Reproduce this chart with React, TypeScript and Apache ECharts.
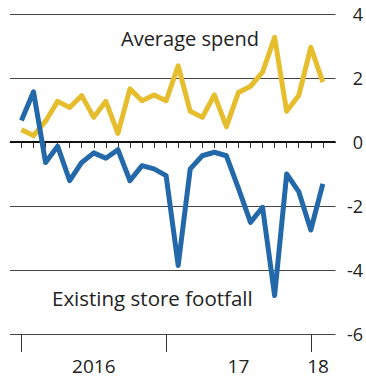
import React, { useEffect, useRef } from "react";
import * as echarts from "echarts";

const months: number[] = Array.from({ length: 26 }, (_, i) => i); // Jan 2016 .. Feb 2018
const averageSpend: number[] = [
  0.38, 0.2, 0.65, 1.27, 1.08, 1.45, 0.77, 1.27, 0.27, 1.66, 1.29, 1.47, 1.29,
  2.38, 0.96, 0.77, 1.47, 0.48, 1.55, 1.74, 2.18, 3.27, 0.96, 1.45, 2.96, 1.87,
];
const footfall: number[] = [
  0.67, 1.57, -0.64, -0.13, -1.21, -0.64, -0.34, -0.51, -0.24, -1.21, -0.74,
  -0.84, -1.05, -3.86, -0.84, -0.43, -0.32, -0.43, -1.45, -2.51, -2.04, -4.8,
  -1.0, -1.55, -2.75, -1.31,
];
const yearTicks: number[] = [0, 12, 24];
const yearLabelPos: number[] = [6, 18, 24.6];
const yearLabels: string[] = ["2016", "17", "18"];

const FONT = "'Open Sans', 'Noto Sans', sans-serif";

export default function App() {
  const ref = useRef<HTMLDivElement>(null);
  useEffect(() => {
    if (!ref.current) return;
    const chart = echarts.init(ref.current, undefined, { renderer: "svg" });
    const xMin = -0.95;
    const xMax = 26.05;
    chart.setOption({
      animation: false,
      backgroundColor: "#ffffff",
      grid: { left: 10, right: 28.5, top: 14, bottom: 45 },
      xAxis: [
        {
          type: "value",
          min: xMin,
          max: xMax,
          position: "bottom",
          axisLine: { show: true, lineStyle: { color: "#333", width: 1 } },
          axisTick: {
            show: true,
            customValues: months,
            length: 6,
            lineStyle: { color: "#333", width: 1 },
          },
          axisLabel: { show: false },
          splitLine: { show: false },
        },
        {
          type: "value",
          min: xMin,
          max: xMax,
          position: "bottom",
          axisLine: { show: false },
          axisTick: {
            show: true,
            customValues: yearTicks,
            length: 18,
            lineStyle: { color: "#333", width: 1 },
          },
          axisLabel: {
            show: true,
            customValues: yearLabelPos,
            margin: 22,
            fontSize: 19,
            lineHeight: 20,
            fontFamily: FONT,
            color: "#222",
            formatter: (v: number) => {
              const idx = yearLabelPos.findIndex((p) => Math.abs(p - v) < 0.01);
              return idx >= 0 ? yearLabels[idx] : "";
            },
          },
          splitLine: { show: false },
        },
      ],
      yAxis: {
        type: "value",
        min: -6,
        max: 4,
        interval: 2,
        position: "right",
        axisLine: { show: false },
        axisTick: { show: false },
        axisLabel: {
          align: "right",
          margin: 27.5,
          fontSize: 18,
          fontFamily: FONT,
          color: "#222",
        },
        splitLine: { show: true, lineStyle: { color: "#444", width: 1 } },
      },
      series: [
        {
          type: "line",
          xAxisIndex: 0,
          data: months.map((m, i) => [m, averageSpend[i]]),
          showSymbol: false,
          lineStyle: { color: "#E6BE2D", width: 5, join: "round" },
          markLine: {
            silent: true,
            symbol: "none",
            label: { show: false },
            lineStyle: { color: "#111", width: 2, type: "solid" },
            data: [{ yAxis: 0 }],
            z: 1,
          },
          z: 3,
        },
        {
          type: "line",
          xAxisIndex: 0,
          data: months.map((m, i) => [m, footfall[i]]),
          showSymbol: false,
          lineStyle: { color: "#2369AA", width: 5, join: "round" },
          z: 4,
        },
      ],
      graphic: [
        {
          type: "text",
          left: 121,
          top: 28,
          style: {
            text: "Average spend",
            font: `20px ${FONT}`,
            fill: "#222",
          },
        },
        {
          type: "text",
          left: 52,
          top: 287,
          style: {
            text: "Existing store footfall",
            font: `20.5px ${FONT}`,
            fill: "#222",
          },
        },
      ],
    });
    return () => chart.dispose();
  }, []);
  return (
    <div
      ref={ref}
      style={{ position: "absolute", left: 0, top: 0, width: 366, height: 379 }}
    />
  );
}
